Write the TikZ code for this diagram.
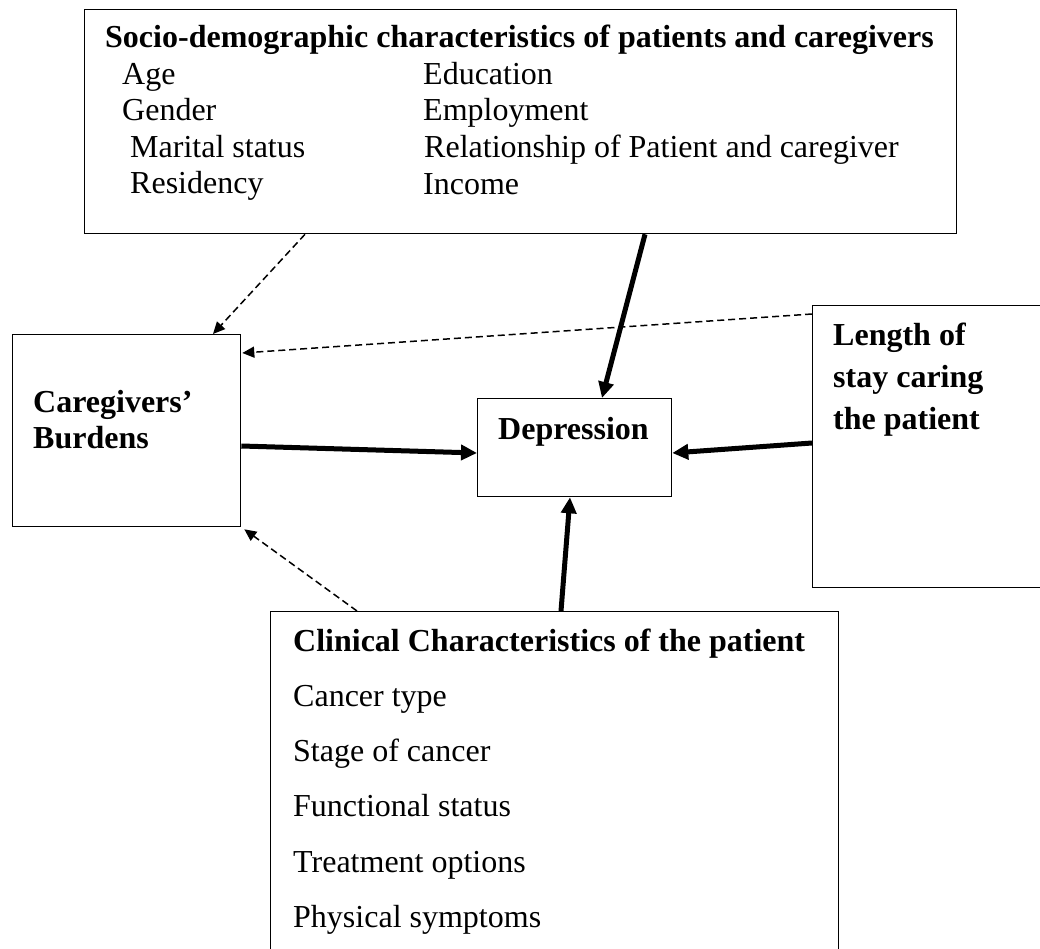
\documentclass[tikz,border=0pt]{standalone}
\usepackage{fontspec}
\setmainfont{Liberation Serif}
\usepackage{tikz}
\usetikzlibrary{arrows.meta}
\tikzset{
	box/.style={draw, line width=1.3pt, anchor=north west, inner sep=0pt},
	txt/.style={anchor=base west, inner sep=0pt, font=\fontsize{32}{36}\selectfont},
	bold/.style={txt, font=\fontsize{32}{36}\selectfont\bfseries},
	effect/.style={line width=5pt, -{Triangle[length=16pt,width=15pt]}},
	weak/.style={line width=1.5pt, dash pattern=on 7pt off 4pt, -{Triangle[length=12pt,width=11pt]}}
}

\begin{document}
\begin{tikzpicture}[x=1pt, y=-1pt]
			%%%%% START %%%%%
			\useasboundingbox (0, 0) rectangle (1040, 949);
			
			\node[box, minimum width=872pt, minimum height=224pt] (socio) at (84, 9) {};
			\node[bold] (sociohead) at (105, 48) {Socio-demographic characteristics of patients and caregivers};
			\node[txt] (age) at (122, 85) {Age};
			\node[txt] (gender) at (122, 121) {Gender};
			\node[txt] (marital) at (130, 158) {Marital status};
			\node[txt] (residency) at (130, 194) {Residency};
			\node[txt] (education) at (423, 85) {Education};
			\node[txt] (employment) at (423, 121) {Employment};
			\node[txt] (relation) at (424, 158) {Relationship of Patient and caregiver};
			\node[txt] (income) at (423, 195) {Income};
			
			\node[box, minimum width=228pt, minimum height=192pt] (care) at (12, 334) {};
			\node[bold] (carehead) at (33, 412) {Caregivers'};
			\node[bold] (burden) at (33, 448) {Burdens};
			
			\node[box, minimum width=194pt, minimum height=98pt] (depr) at (477, 398) {};
			\node[bold] (deprhead) at (498, 439) {Depression};
			
			\node[box, minimum width=240pt, minimum height=282pt] (stay) at (812, 305) {};
			\node[bold] (stay1) at (833, 345) {Length of};
			\node[bold] (stay2) at (833, 387) {stay caring};
			\node[bold] (stay3) at (833, 429) {the patient};
			
			\node[box, minimum width=568pt, minimum height=345pt] (clin) at (270, 611) {};
			\node[bold] (clinhead) at (293, 651) {Clinical Characteristics of the patient};
			\node[txt] (cancer) at (293, 706) {Cancer type};
			\node[txt] (stage) at (293, 761) {Stage of cancer};
			\node[txt] (functional) at (293, 816) {Functional status};
			\node[txt] (treatment) at (293, 872) {Treatment options};
			\node[txt] (symptoms) at (293, 927) {Physical symptoms};
			
			% direct paths to depression
			\draw[effect] ([xshift=561pt]socio.south west) -- ([xshift=125pt]depr.north west);
			\draw[effect] ([yshift=-112pt]care.north east) -- ([yshift=-55pt]depr.north west);
			\draw[effect] ([yshift=-138pt]stay.north west) -- ([yshift=-55pt]depr.north east);
			\draw[effect] ([xshift=291pt]clin.north west) -- ([xshift=93pt]depr.south west);
			
			% paths to caregivers' burdens
			\draw[weak] ([xshift=221pt]socio.south west) -- ([xshift=201pt]care.north west);
			\draw[weak] ([yshift=-9pt]stay.north west) -- ([shift={(1pt,-19pt)}]care.north east);
			\draw[weak] ([xshift=87pt]clin.north west) -- ([shift={(3pt,-2pt)}]care.south east);
			
			%%%%% END %%%%%
\end{tikzpicture}
\end{document}
